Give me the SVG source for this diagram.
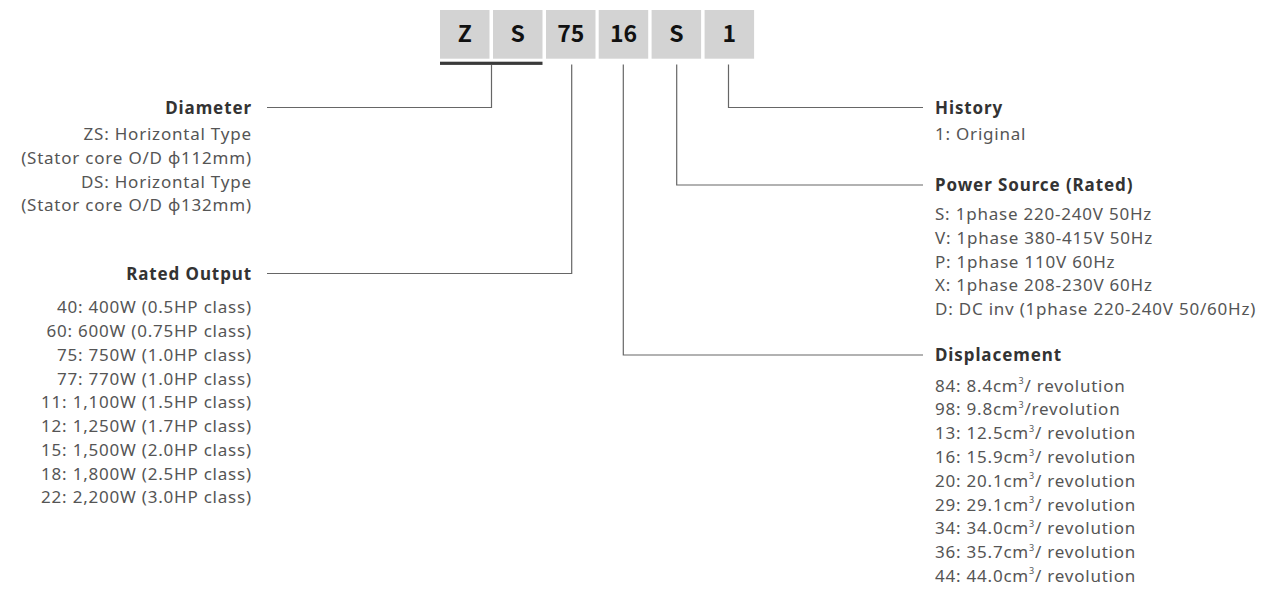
<svg xmlns="http://www.w3.org/2000/svg" width="1262" height="589" viewBox="0 0 1262 589">
<style>
text{font-family:"Noto Sans","Noto Sans CJK JP",sans-serif;}
.box{fill:#d3d3d3;}
.code{font-family:"Noto Sans CJK JP","Noto Sans",sans-serif;font-size:23px;font-weight:bold;fill:#111;text-anchor:middle;}
.h{font-size:17px;font-weight:bold;fill:#333;letter-spacing:0.9px;}
.b{font-size:17px;fill:#555;letter-spacing:0.78px;}
.l{text-anchor:end;}
.ln{fill:none;stroke:#666;stroke-width:1.2;}
.sup{font-size:9px;}
</style>
<rect width="1262" height="589" fill="#fff"/>
<g id="code">
<rect class="box" x="440" y="10" width="49.5" height="48.7"/>
<rect class="box" x="493" y="10" width="49.5" height="48.7"/>
<rect class="box" x="546" y="10" width="49.5" height="48.7"/>
<rect class="box" x="598.7" y="10" width="49.5" height="48.7"/>
<rect class="box" x="651.6" y="10" width="49.5" height="48.7"/>
<rect class="box" x="704.6" y="10" width="49.5" height="48.7"/>
<text class="code" x="464.8" y="42">Z</text>
<text class="code" x="517.8" y="42">S</text>
<text class="code" x="570.8" y="42">75</text>
<text class="code" x="623.5" y="42">16</text>
<text class="code" x="676.4" y="42">S</text>
<text class="code" x="729.4" y="42">1</text>
<rect x="440" y="61.7" width="102.5" height="3.2" fill="#3a3a3a"/>
</g>
<g id="connectors">
<polyline class="ln" points="491.5,65 491.5,107.5 267,107.5"/>
<polyline class="ln" points="571.7,64.5 571.7,273.5 267,273.5"/>
<polyline class="ln" points="623.3,64.5 623.3,355 923,355"/>
<polyline class="ln" points="676.7,64.5 676.7,185 923,185"/>
<polyline class="ln" points="728.5,64.5 728.5,107.5 923,107.5"/>
</g>
<g id="diameter">
<text class="h l" x="252" y="113.5">Diameter</text>
<text class="b l" x="251.8" y="140">ZS: Horizontal Type</text>
<text class="b l" x="251.8" y="163.7">(Stator core O/D ϕ112mm)</text>
<text class="b l" x="251.8" y="187.5">DS: Horizontal Type</text>
<text class="b l" x="251.8" y="211.2">(Stator core O/D ϕ132mm)</text>
</g>
<g id="rated-output">
<text class="h l" x="252" y="279.5">Rated Output</text>
<text class="b l" x="251.8" y="313.3">40: 400W (0.5HP class)</text>
<text class="b l" x="251.8" y="337">60: 600W (0.75HP class)</text>
<text class="b l" x="251.8" y="360.8">75: 750W (1.0HP class)</text>
<text class="b l" x="251.8" y="384.5">77: 770W (1.0HP class)</text>
<text class="b l" x="251.8" y="408.3">11: 1,100W (1.5HP class)</text>
<text class="b l" x="251.8" y="432">12: 1,250W (1.7HP class)</text>
<text class="b l" x="251.8" y="455.8">15: 1,500W (2.0HP class)</text>
<text class="b l" x="251.8" y="479.5">18: 1,800W (2.5HP class)</text>
<text class="b l" x="251.8" y="503.3">22: 2,200W (3.0HP class)</text>
</g>
<g id="history">
<text class="h" x="935" y="113.5">History</text>
<text class="b" x="935" y="140">1: Original</text>
</g>
<g id="power-source">
<text class="h" x="935" y="191">Power Source (Rated)</text>
<text class="b" x="935" y="220">S: 1phase 220-240V 50Hz</text>
<text class="b" x="935" y="243.8">V: 1phase 380-415V 50Hz</text>
<text class="b" x="935" y="267.5">P: 1phase 110V 60Hz</text>
<text class="b" x="935" y="291.3">X: 1phase 208-230V 60Hz</text>
<text class="b" x="935" y="315">D: DC inv (1phase 220-240V 50/60Hz)</text>
</g>
<g id="displacement">
<text class="h" x="935" y="361">Displacement</text>
<text class="b" x="935" y="391.7">84: 8.4cm<tspan class="sup" dy="-7.5">3</tspan><tspan dy="7.5">/ revolution</tspan></text>
<text class="b" x="935" y="415.4">98: 9.8cm<tspan class="sup" dy="-7.5">3</tspan><tspan dy="7.5">/revolution</tspan></text>
<text class="b" x="935" y="439.2">13: 12.5cm<tspan class="sup" dy="-7.5">3</tspan><tspan dy="7.5">/ revolution</tspan></text>
<text class="b" x="935" y="463">16: 15.9cm<tspan class="sup" dy="-7.5">3</tspan><tspan dy="7.5">/ revolution</tspan></text>
<text class="b" x="935" y="486.7">20: 20.1cm<tspan class="sup" dy="-7.5">3</tspan><tspan dy="7.5">/ revolution</tspan></text>
<text class="b" x="935" y="510.5">29: 29.1cm<tspan class="sup" dy="-7.5">3</tspan><tspan dy="7.5">/ revolution</tspan></text>
<text class="b" x="935" y="534.2">34: 34.0cm<tspan class="sup" dy="-7.5">3</tspan><tspan dy="7.5">/ revolution</tspan></text>
<text class="b" x="935" y="558">36: 35.7cm<tspan class="sup" dy="-7.5">3</tspan><tspan dy="7.5">/ revolution</tspan></text>
<text class="b" x="935" y="581.7">44: 44.0cm<tspan class="sup" dy="-7.5">3</tspan><tspan dy="7.5">/ revolution</tspan></text>
</g>
</svg>
